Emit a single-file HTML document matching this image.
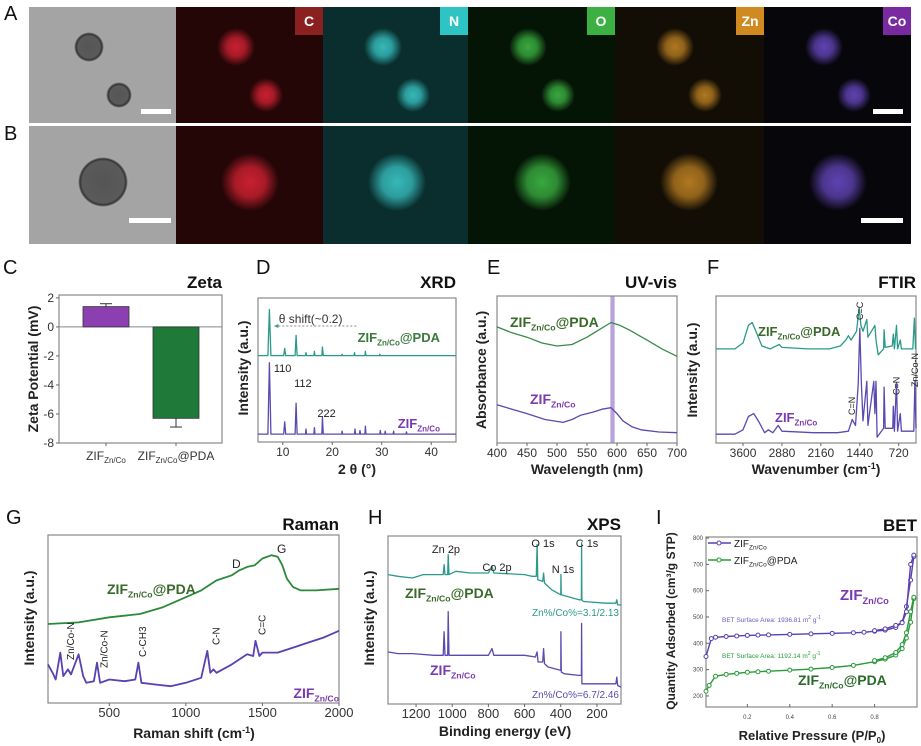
<!DOCTYPE html>
<html><head><meta charset="utf-8">
<style>
html,body{margin:0;padding:0;background:#fff;width:921px;height:746px;overflow:hidden}
svg{display:block;font-family:"Liberation Sans",sans-serif}
.img{position:absolute;overflow:hidden}
</style></head>
<body>
<div id="topimgs" style="position:absolute;left:0;top:0;width:921px;height:250px"></div>
<svg id="chart" width="921" height="746" viewBox="0 0 921 746" style="position:absolute;left:0;top:0"></svg>
<script>
// ---------- DATA ----------
const zetaCategories=["ZIF_Zn/Co","ZIF_Zn/Co@PDA"];
const zetaValues=[1.4,-6.3];
const zetaErrors=[0.2,0.6];
const zetaTicks=[2,0,-2,-4,-6,-8];

const xrdTicks=[10,20,30,40];
const xrdPDA=[[5,60],[7.0,60],[7.3,92],[7.6,60],[10.2,60],[10.4,65],[10.6,60],[12.5,60],[12.7,74],[12.9,60],[14.6,60],[14.7,62],[14.8,60],[16.3,60],[16.4,63],[16.5,60],[17.9,60],[18.0,66],[18.2,60],[21.9,60],[22.0,61],[22.1,60],[24.4,60],[24.5,62],[24.6,60],[26.6,60],[26.7,63],[26.8,60],[29.5,60],[29.6,61],[29.7,60],[45,60]];
const xrdZIF=[[5,5.5],[7.0,5.5],[7.3,55],[7.6,5.5],[10.2,5.5],[10.4,14],[10.6,5.5],[12.5,5.5],[12.7,27],[12.9,5.5],[14.6,5.5],[14.7,9],[14.8,5.5],[16.3,5.5],[16.4,10],[16.5,5.5],[17.9,5.5],[18.0,17],[18.2,5.5],[21.9,5.5],[22.0,7.5],[22.1,5.5],[24.5,5.5],[24.6,9],[24.7,5.5],[25.5,5.5],[25.6,8],[25.7,5.5],[26.6,5.5],[26.7,11],[26.8,5.5],[29.6,5.5],[29.7,8],[29.8,5.5],[30.6,5.5],[30.7,7.5],[30.8,5.5],[32.3,5.5],[32.4,7.5],[32.5,5.5],[34.9,5.5],[35,7],[35.1,5.5],[45,5.5]];

const uvTicks=[400,450,500,550,600,650,700];
const uvPDA=[[400,79],[425,75],[450,72],[475,68],[500,66],[525,67],[550,72],[570,77],[590,82],[605,80],[620,77],[650,70],[675,64],[700,59]];
const uvZIF=[[400,26],[425,23],[450,20],[480,16],[510,14],[525,16],[540,19],[560,21],[575,23],[590,24],[600,20],[610,15],[625,11],[640,9],[670,7.5],[700,7]];

const ftirTicks=[3600,2880,2160,1440,720];
const ftirPDA=[[4100,64],[3750,64],[3600,68],[3500,80],[3430,82],[3350,75],[3250,66],[3100,64],[2930,67],[2880,65],[2400,64],[2000,64],[1800,66],[1700,70],[1650,73],[1600,70],[1500,76],[1450,92],[1420,80],[1380,76],[1310,84],[1290,72],[1160,80],[1140,70],[1100,60],[1000,64],[990,77],[970,65],[840,66],[820,74],[800,64],[760,80],[740,64],[690,70],[670,64],[460,64],[430,85],[410,64],[400,64]];
const ftirZIF=[[4100,6],[3750,6],[3600,9],[3500,18],[3400,20],[3300,14],[3200,7],[3130,9],[3050,7],[2950,12],[2880,8],[2300,7],[1850,7],[1650,8],[1580,16],[1520,12],[1470,40],[1440,78],[1410,40],[1380,15],[1310,42],[1290,12],[1180,42],[1160,20],[1140,42],[1120,4],[1000,10],[990,38],[970,10],[830,10],[820,25],[800,8],[760,41],[740,8],[690,20],[670,8],[440,8],[420,42],[400,10]];

const ramanTicks=[500,1000,1500,2000];
const ramanPDA=[[100,47],[300,48],[500,51],[700,53],[850,57],[1000,63],[1100,67],[1200,73],[1300,76],[1350,79],[1400,81],[1450,82],[1500,86],[1560,88],[1600,87],[1630,82],[1660,74],[1700,69],[1750,67],[1850,67],[2000,68]];
const ramanZIF=[[100,23],[130,18],[150,14],[180,30],[200,16],[230,20],[250,17],[300,29],[330,16],[350,12],[400,13],[420,24],[440,12],[500,14],[600,13],[670,14],[690,24],[710,12],[800,11],[900,10],[1000,12],[1100,15],[1140,31],[1160,18],[1180,20],[1200,18],[1300,23],[1400,29],[1440,28],[1455,37],[1480,28],[1500,30],[1600,30],[1700,33],[1800,36],[1900,39],[2000,43]];

const xpsTicks=[1200,1000,800,600,400,200];
const xpsPDA=[[1355,77],[1300,76],[1220,75],[1160,77],[1100,77],[1050,77],[1045,83],[1040,77],[1025,77],[1022,89],[1018,77],[980,79],[900,78],[800,78],[780,82],[770,78],[600,77],[560,76],[535,76],[531,95],[527,74],[500,73],[495,78],[490,72],[450,68],[400,65],[399,77],[397,65],[300,62],[286,62],[285,96],[283,62],[275,61],[150,60],[95,60],[90,62],[85,59],[67,59]];
const xpsZIF=[[1355,31],[1300,30],[1220,30],[1100,29],[1050,29],[1045,43],[1040,29],[1025,29],[1022,55],[1018,29],[1000,29],[800,29],[780,33],[770,29],[600,29],[540,28],[531,31],[525,25],[500,25],[495,33],[490,24],[470,22],[400,20],[399,43],[397,19],[380,18],[300,17],[286,17],[285,48],[283,12],[275,12],[150,12],[95,12],[90,16],[85,11],[67,10]];

const betTicksX=[0.2,0.4,0.6,0.8];
const betTicksY=[200,300,400,500,600,700,800];
const betZIFads=[[0.005,350],[0.03,418],[0.05,423],[0.1,426],[0.15,428],[0.2,430],[0.25,431],[0.3,432],[0.4,434],[0.5,436],[0.6,438],[0.7,440],[0.75,442],[0.8,446],[0.85,450],[0.9,460],[0.93,480],[0.95,540],[0.97,640],[0.985,730]];
const betZIFdes=[[0.985,735],[0.97,700],[0.95,520],[0.93,478],[0.9,468],[0.85,455],[0.8,448]];
const betPDAads=[[0.005,218],[0.02,240],[0.05,275],[0.1,282],[0.15,286],[0.2,290],[0.25,292],[0.3,294],[0.4,298],[0.5,302],[0.6,308],[0.7,316],[0.8,330],[0.85,340],[0.9,355],[0.93,380],[0.95,420],[0.97,480],[0.985,570]];
const betPDAdes=[[0.985,575],[0.97,520],[0.95,440],[0.93,395],[0.9,365],[0.85,345],[0.8,334]];

// ---------- MICROSCOPY ----------
const topEl=document.getElementById('topimgs');
const cols=[[29,176,'tem','#a4a4a4','#4a4a4a',null],[176,323,'c','#240606','#c82030','#8b2020'],[323,468,'n','#0a2e2e','#36b8b8','#2ec4c4'],[468,615,'o','#041405','#38a83e','#3cb043'],[615,764,'zn','#120d05','#b07820','#d08a20'],[764,911,'co','#07060b','#5e42b0','#7a2aa0']];
const colLabels=['','C','N','O','Zn','Co'];
const rows=[[7,123,[[60,40,15],[90,88,13]]],[126,244,[[74,56,25]]]];
rows.forEach((r,ri)=>{cols.forEach((c,ci)=>{
  const d=document.createElement('div');d.className='img';
  
  
  d.style.cssText+=`left:${c[0]}px;top:${r[0]}px;width:${c[1]-c[0]}px;height:${r[1]-r[0]}px;background:${c[3]}`;
  const tem=ci===0;
  const bg=r[2].map(p=>tem?`radial-gradient(circle at ${p[0]}px ${p[1]}px, #555 0, #5a5a5a ${p[2]-4}px, #333 ${p[2]-2}px, #aaa ${p[2]}px, transparent ${p[2]+1}px)`:`radial-gradient(circle at ${p[0]}px ${p[1]}px, ${c[4]} 0, ${c[4]}cc ${p[2]*0.6}px, transparent ${p[2]+4}px)`);
  d.style.backgroundImage=bg.join(',');
  topEl.appendChild(d);
  if(ri===0&&c[5]){const l=document.createElement('div');
    
    
    l.style.cssText=`position:absolute;right:0;top:0;width:28px;height:28px;background:${c[5]};color:#fff;font:bold 14px "Liberation Sans",sans-serif;text-align:center;line-height:28px`;
    l.textContent=colLabels[ci];d.appendChild(l);}
  if(ci===0||ci===5){const s=document.createElement('div');
    
    
    const w=ri?42:30;
    s.style.cssText=`position:absolute;right:${ci===0?5:8}px;bottom:${ri?21:9}px;width:${w}px;height:5px;background:#fff`;d.appendChild(s);}
});});

// ---------- SVG HELPERS ----------
const NS='http://www.w3.org/2000/svg';
const svgEl=document.getElementById('chart');
function el(tag,attrs,parent){const e=document.createElementNS(NS,tag);for(const k in attrs)e.setAttribute(k,attrs[k]);(parent||svgEl).appendChild(e);return e;}
function txt(x,y,s,opts,name){const t=el('text',Object.assign({x:x,y:y,'font-size':11,fill:'#222'},opts||{}));t.textContent=s;return t;}
function scale(d0,d1,r0,r1){return v=>r0+(v-d0)*(r1-r0)/(d1-d0);}
function zif(x,y,pda,color,size,anchor,name){
  const t=el('text',{x:x,y:y,'font-size':size,'font-weight':'bold',fill:color,'text-anchor':anchor||'start'});
  
  const a=el('tspan',{},t);a.textContent='ZIF';
  const b=el('tspan',{'font-size':size*0.62,dy:size*0.25},t);b.textContent='Zn/Co';
  if(pda){const c=el('tspan',{dy:-size*0.25},t);c.textContent='@PDA';}
  return t;}
function box(x0,y0,x1,y1,name){const r=el('rect',{x:x0,y:y0,width:x1-x0,height:y1-y0,fill:'none',stroke:'#888','stroke-width':1.2});}
function line(data,sx,sy,color,name,w){const p=el('polyline',{points:data.map(d=>sx(d[0]).toFixed(1)+','+sy(d[1]).toFixed(1)).join(' '),fill:'none',stroke:color,'stroke-width':w||1.3,'stroke-linejoin':'round'});return p;}
function xticks(ticks,sx,y,fs,name){ticks.forEach(t=>{el('line',{x1:sx(t),x2:sx(t),y1:y,y2:y+3,stroke:'#666'});txt(sx(t),y+14,String(t),{'font-size':fs||12,'text-anchor':'middle',fill:'#333'},name);});}
function ptitle(x,y,s,name){txt(x,y,s,{'font-size':17,'font-weight':'bold','text-anchor':'end',fill:'#111'},name);}
function letter(x,y,s){txt(x,y,s,{'font-size':20,fill:'#111'},'panel-letter-'+s.toLowerCase());}
function ytitle(x,y,s,name,fs){txt(0,0,s,{'font-size':fs||14,'font-weight':'bold','text-anchor':'middle',transform:`translate(${x},${y}) rotate(-90)`,fill:'#222'},name);}
function xtitle(x,y,s,name,sup){const t=txt(x,y,s,{'font-size':14,'font-weight':'bold','text-anchor':'middle',fill:'#222'},name);if(sup){const a=el('tspan',{'font-size':9,dy:-5},t);a.textContent=sup;const b=el('tspan',{dy:5},t);b.textContent=')';}return t;}

letter(4,20,'A');letter(4,140,'B');

// ---------- C: ZETA ----------
{const x0=59,x1=222,y0=295,y1=443;const sy=scale(-8,2.2,443,295);
letter(3,274,'C');ptitle(222,288,'Zeta','zeta-title');box(x0,y0,x1,y1,'zeta-plot-area');
el('line',{x1:x0,x2:x1,y1:sy(0),y2:sy(0),stroke:'#888'});
zetaTicks.forEach(t=>{el('line',{x1:x0-3,x2:x0,y1:sy(t),y2:sy(t),stroke:'#666'});txt(x0-5,sy(t)+4,String(t),{'font-size':12,'text-anchor':'end',fill:'#333'},'zeta-y-tick');});
const colors=['#8b3fb0','#1f7a3a'];const centers=[106,176];
zetaValues.forEach((v,i)=>{const b=el('rect',{x:centers[i]-23,width:46,y:Math.min(sy(0),sy(v)),height:Math.abs(sy(v)-sy(0)),fill:colors[i],stroke:'#333','stroke-width':0.8});

const e=v+(v>=0?zetaErrors[i]:-zetaErrors[i]);
el('line',{x1:centers[i],x2:centers[i],y1:sy(v),y2:sy(e),stroke:'#333'});el('line',{x1:centers[i]-6,x2:centers[i]+6,y1:sy(e),y2:sy(e),stroke:'#333'});
el('line',{x1:centers[i],x2:centers[i],y1:y1,y2:y1+3,stroke:'#666'});});
[0,1].forEach(i=>{const t=el('text',{x:centers[i],y:460,'font-size':12,fill:'#333','text-anchor':'middle'});
const a=el('tspan',{},t);a.textContent='ZIF';const b=el('tspan',{'font-size':8,dy:3},t);b.textContent='Zn/Co';if(i){const c=el('tspan',{dy:-3},t);c.textContent='@PDA';}});
ytitle(38,369,'Zeta Potential  (mV)','zeta-y-title');}

// ---------- D: XRD ----------
{const sx=scale(5,45,258,456),sy=scale(0,100,442,298);
letter(256,274,'D');ptitle(456,288,'XRD','xrd-title');box(258,298,456,442,'xrd-plot-area');
xticks(xrdTicks,sx,442,12,'xrd-x-tick');
line(xrdPDA,sx,sy,'#2a9a8a','xrd-pda-line');line(xrdZIF,sx,sy,'#5a4ab0','xrd-zif-line');
zif(440,342,true,'#3a7a3a',13,'end','xrd-pda-label');zif(440,428,false,'#7a3ab0',13,'end','xrd-zif-label');
txt(sx(8.2),372,'110',{'font-size':11},'peak-110');txt(sx(12.3),387,'112',{'font-size':11},'peak-112');txt(sx(17),417,'222',{'font-size':11},'peak-222');
el('line',{x1:sx(8.3),x2:sx(25),y1:326,y2:326,stroke:'#888','stroke-dasharray':'2,2'});el('path',{d:`M${sx(8.3)},326 l4,-2 l0,4z`,fill:'#2a9a8a'});
txt(sx(9.2),323,'θ shift(~0.2)',{'font-size':12,fill:'#333'},'theta-shift-note');
ytitle(248,368,'Intensity (a.u.)','xrd-y-title');xtitle(357,474,'2 θ (°)','xrd-x-title');}

// ---------- E: UV-vis ----------
{const sx=scale(400,700,497,677),sy=scale(0,100,443,296);
letter(487,274,'E');ptitle(677,288,'UV-vis','uv-title');
const band=el('rect',{x:sx(589),y:296,width:sx(596)-sx(589),height:147,fill:'#b9a2db'});
box(497,296,677,443,'uv-plot-area');xticks(uvTicks,sx,443,12,'uv-x-tick');
line(uvPDA,sx,sy,'#3a8a4a','uv-pda-line');line(uvZIF,sx,sy,'#5a4ab0','uv-zif-line');
zif(510,327,true,'#3a6a2a',14,'start','uv-pda-label');zif(530,404,false,'#7a3ab0',14,'start','uv-zif-label');
ytitle(486,370,'Absorbance (a.u.)','uv-y-title');xtitle(587,474,'Wavelength (nm)','uv-x-title');}

// ---------- F: FTIR ----------
{const sx=scale(4100,400,716,916),sy=scale(0,100,443,296);
letter(707,274,'F');ptitle(916,288,'FTIR','ftir-title');box(716,296,916,443,'ftir-plot-area');xticks(ftirTicks,sx,443,12,'ftir-x-tick');
line(ftirPDA,sx,sy,'#2a9a8a','ftir-pda-line');line(ftirZIF,sx,sy,'#5a4ab0','ftir-zif-line');
zif(758,336,true,'#3a6a2a',13,'start','ftir-pda-label');zif(775,422,false,'#7a3ab0',13,'start','ftir-zif-label');
[[1580,415,'C=N'],[1440,320,'C=C'],[760,395,'C=N'],[420,387,'Zn/Co-N']].forEach(a=>txt(0,0,a[2],{'font-size':9,transform:`translate(${sx(a[0])+3},${a[1]}) rotate(-90)`},'ftir-annotation'));
ytitle(697,370,'Intensity (a.u.)','ftir-y-title');xtitle(816,474,'Wavenumber (cm','ftir-x-title','-1');}

// ---------- G: Raman ----------
{const sx=scale(100,2000,48,339),sy=scale(0,100,703,535);
letter(6,524,'G');ptitle(339,530,'Raman','raman-title');box(48,535,339,703,'raman-plot-area');xticks(ramanTicks,sx,703,13,'raman-x-tick');
line(ramanPDA,sx,sy,'#2a8a3a','raman-pda-line',1.8);line(ramanZIF,sx,sy,'#5a40b0','raman-zif-line',1.8);
zif(107,594,true,'#3a6a2a',14,'start','raman-pda-label');zif(339,698,false,'#7a3ab0',14,'end','raman-zif-label');
txt(232,568,'D',{'font-size':12},'raman-d-label');txt(277,553,'G',{'font-size':12},'raman-g-label');
[[250,660,'Zn/Co-N'],[470,668,'Zn/Co-N'],[720,657,'C-CH3'],[1200,645,'C-N'],[1500,635,'C=C']].forEach(a=>txt(0,0,a[2],{'font-size':10,transform:`translate(${sx(a[0])+3},${a[1]}) rotate(-90)`},'raman-annotation'));
ytitle(34,618,'Intensity (a.u.)','raman-y-title');xtitle(194,738,'Raman shift (cm','raman-x-title','-1');}

// ---------- H: XPS ----------
{const sx=scale(1355,67,388,621),sy=scale(0,100,704,536);
letter(368,524,'H');ptitle(621,530,'XPS','xps-title');box(388,536,621,704,'xps-plot-area');xticks(xpsTicks,sx,704,13,'xps-x-tick');
line(xpsPDA,sx,sy,'#2a9a8a','xps-pda-line');line(xpsZIF,sx,sy,'#5a4ab0','xps-zif-line');
zif(405,598,true,'#3a6a2a',14,'start','xps-pda-label');zif(430,675,false,'#7a3ab0',14,'start','xps-zif-label');
[[446,553,'Zn 2p'],[497,571,'Co 2p'],[543,547,'O 1s'],[563,573,'N 1s'],[587,547,'C 1s']].forEach(a=>txt(a[0],a[1],a[2],{'font-size':11,'text-anchor':'middle'},'xps-annotation'));
txt(619,616,'Zn%/Co%=3.1/2.13',{'font-size':10,'text-anchor':'end',fill:'#2a9a8a'},'xps-pda-ratio');
txt(619,698,'Zn%/Co%=6.7/2.46',{'font-size':10,'text-anchor':'end',fill:'#5a4ab0'},'xps-zif-ratio');
ytitle(374,618,'Intensity (a.u.)','xps-y-title');xtitle(505,736,'Binding energy (eV)','xps-x-title');}

// ---------- I: BET ----------
{const sx=scale(0.005,1,706,917),sy=scale(158,804,707,537);
letter(656,524,'I');ptitle(917,531,'BET','bet-title');box(706,537,917,707,'bet-plot-area');
betTicksX.forEach(t=>{el('line',{x1:sx(t),x2:sx(t),y1:707,y2:704,stroke:'#666'});txt(sx(t),719,String(t),{'font-size':6,'text-anchor':'middle',fill:'#444'},'bet-x-tick');});
betTicksY.forEach(t=>{el('line',{x1:706,x2:709,y1:sy(t),y2:sy(t),stroke:'#666'});txt(703,sy(t)+2,String(t),{'font-size':6,'text-anchor':'end',fill:'#444'},'bet-y-tick');});
const series=[[betZIFads,'#5a40b0','bet-zif-ads'],[betZIFdes,'#5a40b0','bet-zif-des'],[betPDAads,'#2a9a3a','bet-pda-ads'],[betPDAdes,'#2a9a3a','bet-pda-des']];
series.forEach(s=>{line(s[0],sx,sy,s[1],s[2]+'-line',1.4);s[0].forEach(d=>{const c=el('circle',{cx:sx(d[0]),cy:sy(d[1]),r:2,fill:'#fff',stroke:s[1],'stroke-width':1});});});
[[543,'#5a40b0',false],[560,'#2a9a3a',true]].forEach((l,i)=>{el('line',{x1:708,x2:731,y1:l[0],y2:l[0],stroke:l[1],'stroke-width':1.4});el('circle',{cx:719,cy:l[0],r:2,fill:'#fff',stroke:l[1]});
const t=el('text',{x:734,y:l[0]+4,'font-size':10,fill:'#222'});
const a=el('tspan',{},t);a.textContent='ZIF';const b=el('tspan',{'font-size':6.5,dy:2.5},t);b.textContent='Zn/Co';if(l[2]){const c=el('tspan',{dy:-2.5},t);c.textContent='@PDA';}});
zif(840,600,false,'#7a3ab0',15,'start','bet-zif-label');zif(798,685,true,'#2a6a2a',14,'start','bet-pda-label');
const s1=txt(722,622,'BET Surface Area: 1936.81 m',{'font-size':6.5,fill:'#6a5ac0'},'bet-zif-area');const u1=el('tspan',{'font-size':5,dy:-3},s1);u1.textContent='2';const v1=el('tspan',{dy:3},s1);v1.textContent=' g';const w1=el('tspan',{'font-size':5,dy:-3},s1);w1.textContent='-1';
const s2=txt(722,658,'BET Surface Area: 1192.14 m',{'font-size':6.5,fill:'#2a9a3a'},'bet-pda-area');const u2=el('tspan',{'font-size':5,dy:-3},s2);u2.textContent='2';const v2=el('tspan',{dy:3},s2);v2.textContent=' g';const w2=el('tspan',{'font-size':5,dy:-3},s2);w2.textContent='-1';
ytitle(675,621,'Quantity Adsorbed (cm³/g STP)','bet-y-title',12);
const xt=txt(812,740,'Relative Pressure (P/P',{'font-size':13,'font-weight':'bold','text-anchor':'middle',fill:'#222'},'bet-x-title');const z=el('tspan',{'font-size':8,dy:3},xt);z.textContent='0';const z2=el('tspan',{dy:-3},xt);z2.textContent=')';}
</script>
</body></html>
